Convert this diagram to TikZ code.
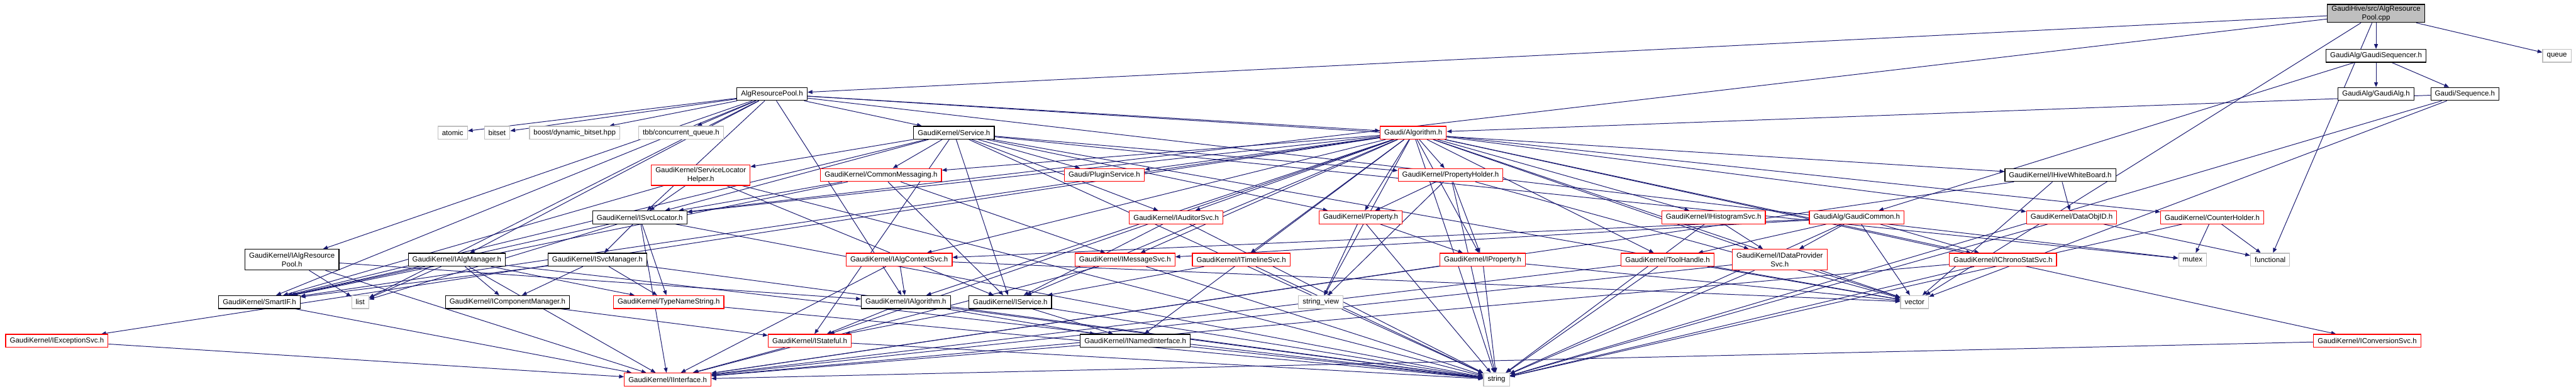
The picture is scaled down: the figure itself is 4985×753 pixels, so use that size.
\documentclass[tikz,border=0pt]{standalone}
\usepackage{fontspec}
\newfontfamily\gfont{Liberation Sans}
\usepackage{tikz}
\usetikzlibrary{arrows.meta,backgrounds}
\definecolor{edgeblue}{RGB}{25,25,112}
\definecolor{trunred}{RGB}{255,0,0}
\definecolor{sysgray}{RGB}{191,191,191}
\tikzset{
  file/.style={draw=black,line width=1.1pt,fill=white,font=\gfont\fontsize{10.5pt}{12.5pt}\selectfont,
    minimum height=18.75pt,inner xsep=6pt,inner ysep=2pt,align=center},
  trunc/.style={file,draw=trunred},
  sysh/.style={file,draw=sysgray},
  root/.style={file,fill=sysgray},
  dep/.style={-{Triangle[length=7pt,width=5.5pt]},draw=edgeblue,line width=0.9pt}
}

\begin{document}
\begin{tikzpicture}[x=0.75pt,y=-0.75pt]
    \useasboundingbox (0,0) rectangle (4985,753);
    % files, row by row
    \node[root]  (cpp)     at (4598,26)  {GaudiHive/src/AlgResource\\Pool.cpp};
    \node[file]  (seqr)    at (4598,108) {GaudiAlg/GaudiSequencer.h};
    \node[sysh]  (queue)   at (4948,108) {queue};
    \node[file]  (arp)     at (1494,182) {AlgResourcePool.h};
    \node[file]  (galg)    at (4598,182) {GaudiAlg/GaudiAlg.h};
    \node[file]  (seq)     at (4770,182) {Gaudi/Sequence.h};
    \node[sysh]  (atomic)  at (876,257)  {atomic};
    \node[sysh]  (bitset)  at (962,257)  {bitset};
    \node[sysh]  (dynbs)   at (1112,257) {boost/dynamic\_bitset.hpp};
    \node[sysh]  (tbbq)    at (1318,257) {tbb/concurrent\_queue.h};
    \node[file]  (svc)     at (1846,257) {GaudiKernel/Service.h};
    \node[trunc] (algo)    at (2735,257) {Gaudi/Algorithm.h};
    \node[trunc,minimum height=30pt] (slh) at (1356,339) {GaudiKernel/ServiceLocator\\Helper.h};
    \node[trunc] (cmsg)    at (1705,339) {GaudiKernel/CommonMessaging.h};
    \node[trunc] (plug)    at (2137,339) {Gaudi/PluginService.h};
    \node[trunc] (pholder) at (2807,339) {GaudiKernel/PropertyHolder.h};
    \node[file]  (hwb)     at (3987,339) {GaudiKernel/IHiveWhiteBoard.h};
    \node[file]  (isvcloc) at (1238,421) {GaudiKernel/ISvcLocator.h};
    \node[trunc] (iaud)    at (2276,421) {GaudiKernel/IAuditorSvc.h};
    \node[trunc] (prop)    at (2633,421) {GaudiKernel/Property.h};
    \node[trunc] (ihist)   at (3316,421) {GaudiKernel/IHistogramSvc.h};
    \node[trunc] (gcom)    at (3593,421) {GaudiAlg/GaudiCommon.h};
    \node[trunc] (doid)    at (4009,421) {GaudiKernel/DataObjID.h};
    \node[trunc] (cholder) at (4281,421) {GaudiKernel/CounterHolder.h};
    \node[file,minimum height=30pt] (iarp) at (565,503) {GaudiKernel/IAlgResource\\Pool.h};
    \node[file]  (ialgmgr) at (884,503)  {GaudiKernel/IAlgManager.h};
    \node[file]  (isvcmgr) at (1156,503) {GaudiKernel/ISvcManager.h};
    \node[trunc] (ictx)    at (1740,503) {GaudiKernel/IAlgContextSvc.h};
    \node[trunc] (imsg)    at (2177,503) {GaudiKernel/IMessageSvc.h};
    \node[trunc] (itl)     at (2402,503) {GaudiKernel/ITimelineSvc.h};
    \node[trunc] (iprop)   at (2869,503) {GaudiKernel/IProperty.h};
    \node[trunc] (tool)    at (3227,503) {GaudiKernel/ToolHandle.h};
    \node[trunc,minimum height=30pt] (idp) at (3444,503) {GaudiKernel/IDataProvider\\Svc.h};
    \node[trunc] (ichrono) at (3876,503) {GaudiKernel/IChronoStatSvc.h};
    \node[sysh]  (mutex)   at (4243,503) {mutex};
    \node[sysh]  (functional) at (4393,503) {functional};
    \node[file]  (smartif) at (502,585)  {GaudiKernel/SmartIF.h};
    \node[sysh]  (list)    at (697,585)  {list};
    \node[file]  (icompmgr) at (982,585) {GaudiKernel/IComponentManager.h};
    \node[trunc] (tns)     at (1294,585) {GaudiKernel/TypeNameString.h};
    \node[file]  (ialg)    at (1753,585) {GaudiKernel/IAlgorithm.h};
    \node[file]  (isvc)    at (1955,585) {GaudiKernel/IService.h};
    \node[sysh]  (sview)   at (2556,585) {string\_view};
    \node[sysh]  (vector)  at (3705,585) {vector};
    \node[trunc] (iexc)    at (110,660)  {GaudiKernel/IExceptionSvc.h};
    \node[trunc] (istate)  at (1567,660) {GaudiKernel/IStateful.h};
    \node[file]  (inamed)  at (2197,660) {GaudiKernel/INamedInterface.h};
    \node[trunc] (iconv)   at (4581,660) {GaudiKernel/IConversionSvc.h};
    \node[trunc] (iintf)   at (1292,735) {GaudiKernel/IInterface.h};
    \node[sysh]  (string)  at (2896,735) {string};

    % includes
    \begin{scope}[on background layer]
    \foreach \t in {seqr,queue,arp,isvcloc,functional,vector} \draw[dep] (cpp) -- (\t);
    \foreach \t in {galg,seq,gcom} \draw[dep] (seqr) -- (\t);
    \foreach \t in {algo,vector,string} \draw[dep] (seq) -- (\t);
    \foreach \t in {atomic,bitset,dynbs,tbbq,svc,algo,iarp,smartif,isvcloc,ialg,ialgmgr,hwb,mutex,list}
      \draw[dep] (arp) -- (\t);
    \foreach \t in {slh,cmsg,plug,pholder,isvcloc,iaud,prop,smartif,isvc,istate,mutex,vector,string}
      \draw[dep] (svc) -- (\t);
    \foreach \t in {cmsg,plug,pholder,isvcloc,iaud,prop,ihist,doid,cholder,ictx,imsg,itl,iprop,tool,
      idp,ichrono,smartif,ialg,isvc,iexc,istate,inamed,iconv,string,vector,sview}
      \draw[dep] (algo) -- (\t);
    \foreach \t in {isvcloc,isvc,smartif,string} \draw[dep] (slh) -- (\t);
    \foreach \t in {imsg,smartif,isvcloc,isvc} \draw[dep] (cmsg) -- (\t);
    \foreach \t in {prop,iprop,sview,string,vector} \draw[dep] (pholder) -- (\t);
    \foreach \t in {doid,iintf,vector} \draw[dep] (hwb) -- (\t);
    \foreach \t in {isvcmgr,tns,smartif,list,iintf,string} \draw[dep] (isvcloc) -- (\t);
    \foreach \t in {isvc,string} \draw[dep] (iaud) -- (\t);
    \foreach \t in {iprop,sview,string} \draw[dep] (prop) -- (\t);
    \foreach \t in {idp,string} \draw[dep] (ihist) -- (\t);
    \foreach \t in {ictx,imsg,tool,idp,ichrono,vector,string} \draw[dep] (gcom) -- (\t);
    \foreach \t in {functional,string} \draw[dep] (doid) -- (\t);
    \foreach \t in {mutex,functional,string} \draw[dep] (cholder) -- (\t);
    \foreach \t in {list,ialg,iintf} \draw[dep] (iarp) -- (\t);
    \foreach \t in {icompmgr,tns,smartif,list,iintf,string} \draw[dep] (ialgmgr) -- (\t);
    \foreach \t in {icompmgr,tns,smartif,string} \draw[dep] (isvcmgr) -- (\t);
    \foreach \t in {ialg,iintf,vector} \draw[dep] (ictx) -- (\t);
    \foreach \t in {iintf,string} \draw[dep] (imsg) -- (\t);
    \foreach \t in {isvc,string} \draw[dep] (itl) -- (\t);
    \foreach \t in {iintf,string,vector} \draw[dep] (iprop) -- (\t);
    \foreach \t in {iintf,string,vector} \draw[dep] (tool) -- (\t);
    \foreach \t in {iintf,string,vector} \draw[dep] (idp) -- (\t);
    \foreach \t in {iintf,string} \draw[dep] (ichrono) -- (\t);
    \draw[dep] (smartif) -- (iintf);
    \draw[dep] (icompmgr) -- (istate);
    \draw[dep] (tns) -- (string);
    \foreach \t in {inamed,istate,string} \draw[dep] (ialg) -- (\t);
    \foreach \t in {inamed,istate,string} \draw[dep] (isvc) -- (\t);
    \draw[dep] (iexc) -- (iintf);
    \foreach \t in {iintf,string} \draw[dep] (istate) -- (\t);
    \foreach \t in {iintf,string} \draw[dep] (inamed) -- (\t);
    \draw[dep] (iconv) -- (iintf);
    \end{scope}
  \end{tikzpicture}
\end{document}
